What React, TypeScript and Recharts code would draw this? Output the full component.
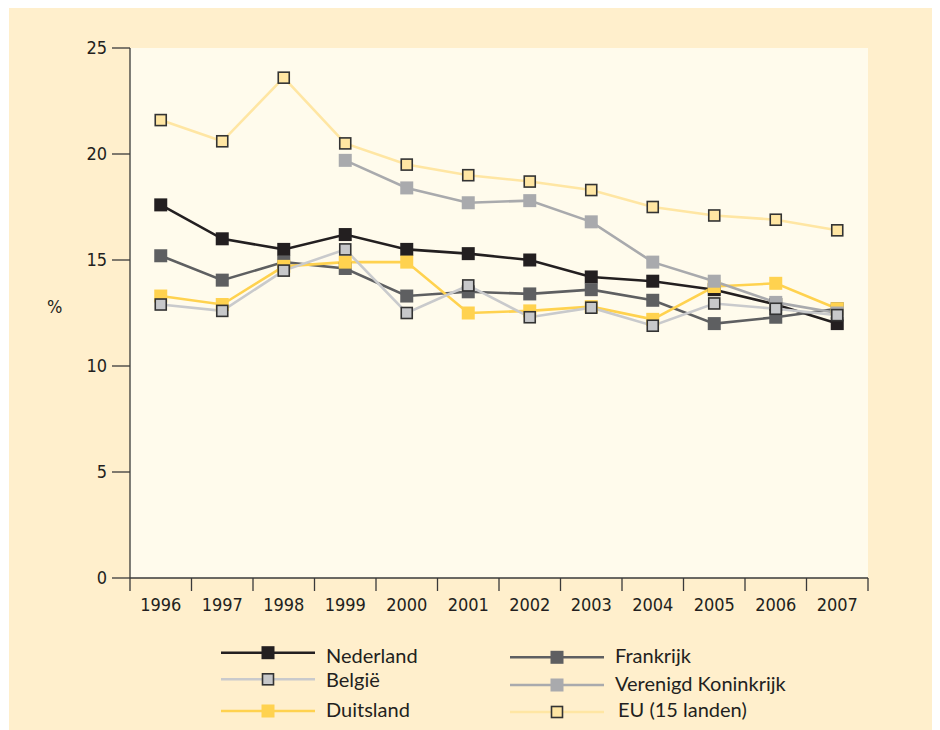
import React from "react";
import { LineChart, Line, XAxis, YAxis, CartesianGrid } from "recharts";

const years = [1996, 1997, 1998, 1999, 2000, 2001, 2002, 2003, 2004, 2005, 2006, 2007];
const nederland = [17.6, 16.0, 15.5, 16.2, 15.5, 15.3, 15.0, 14.2, 14.0, 13.6, 12.9, 12.0];
const belgie = [12.9, 12.6, 14.5, 15.5, 12.5, 13.8, 12.3, 12.75, 11.9, 12.95, 12.7, 12.4];
const duitsland = [13.3, 12.9, 14.7, 14.9, 14.9, 12.5, 12.6, 12.8, 12.2, 13.75, 13.9, 12.7];
const frankrijk = [15.2, 14.05, 14.9, 14.6, 13.3, 13.5, 13.4, 13.6, 13.1, 12.0, 12.3, 12.7];
const verenigdKoninkrijk = [null, null, null, 19.7, 18.4, 17.7, 17.8, 16.8, 14.9, 14.0, 13.0, 12.5];
const eu15 = [21.6, 20.6, 23.6, 20.5, 19.5, 19.0, 18.7, 18.3, 17.5, 17.1, 16.9, 16.4];
const yTicks = [0, 5, 10, 15, 20, 25];

const data = years.map((y, i) => ({
  year: y,
  nl: nederland[i],
  be: belgie[i],
  de: duitsland[i],
  fr: frankrijk[i],
  uk: verenigdKoninkrijk[i],
  eu: eu15[i],
}));

const xTicks: number[] = [];
years.forEach((y) => {
  xTicks.push(y - 0.5);
  xTicks.push(y);
});
xTicks.push(years[years.length - 1] + 0.5);

const AXIS = "#3a3a3a";
const FONT = "'Liberation Sans Narrow', 'DejaVu Sans Condensed', sans-serif";

type S = {
  key: string;
  name: string;
  line: string;
  fill: string;
  stroke?: string;
};
const series: S[] = [
  { key: "nl", name: "Nederland", line: "#231f20", fill: "#231f20" },
  { key: "fr", name: "Frankrijk", line: "#5e5f61", fill: "#5e5f61" },
  { key: "de", name: "Duitsland", line: "#ffd24f", fill: "#ffd24f" },
  { key: "uk", name: "Verenigd Koninkrijk", line: "#a9aaad", fill: "#a9aaad" },
  { key: "be", name: "België", line: "#c9cacc", fill: "#c7c8ca", stroke: "#333333" },
  { key: "eu", name: "EU (15 landen)", line: "#ffe6a3", fill: "#ffe6a3", stroke: "#333333" },
];

const makeDot = (s: S) => (props: any) => {
  const { cx, cy, value } = props;
  if (value == null || cx == null || cy == null) return <g key={props.key} />;
  if (s.stroke) {
    return (
      <rect
        key={props.key}
        x={cx - 5.5}
        y={cy - 5.5}
        width={11}
        height={11}
        fill={s.fill}
        stroke={s.stroke}
        strokeWidth={1.6}
      />
    );
  }
  return <rect key={props.key} x={cx - 6.5} y={cy - 6.5} width={13} height={13} fill={s.fill} />;
};

const XTick = (props: any) => {
  const { x, y, payload } = props;
  const v = payload.value;
  if (Number.isInteger(v)) {
    return (
      <text x={x} y={y + 27} dy="0.35em" textAnchor="middle" fontFamily={FONT} fontSize={18} fill="#231f20">
        {v}
      </text>
    );
  }
  return <line x1={x} x2={x} y1={y} y2={y + 13} stroke={AXIS} strokeWidth={1.3} />;
};

const legendLeft = [
  { s: series[0], y: 652.7, ty: 662.7 },
  { s: series[4], y: 679.3, ty: 686.7 },
  { s: series[2], y: 711, ty: 716.7 },
];
const legendRight = [
  { s: series[1], y: 657.3, ty: 662.7 },
  { s: series[3], y: 685, ty: 690.7 },
  { s: series[5], y: 712, ty: 717.3 },
];

function LegendItem({ s, y, ty, x0, x1, xm, xt }: any) {
  return (
    <g>
      <line x1={x0} x2={x1} y1={y} y2={y} stroke={s.line} strokeWidth={2.5} />
      {s.stroke ? (
        <rect x={xm - 5.5} y={y - 5.5} width={11} height={11} fill={s.fill} stroke={s.stroke} strokeWidth={1.6} />
      ) : (
        <rect x={xm - 6.5} y={y - 6.5} width={13} height={13} fill={s.fill} />
      )}
      <text x={xt} y={ty} fontFamily="Lato, 'Open Sans', sans-serif" fontSize={20} fill="#231f20">
        {s.name}
      </text>
    </g>
  );
}

export default function App() {
  return (
    <div style={{ position: "relative", width: 932, height: 722 }}>
      <div style={{ position: "absolute", left: 1, top: 0, width: 931, height: 722, background: "#ffefcc" }} />
      <div style={{ position: "absolute", left: 0, top: 0 }}>
        <LineChart
          width={932}
          height={722}
          data={data}
          margin={{ top: 40, right: 72, left: 0, bottom: 122 }}
        >
          <CartesianGrid horizontal={false} vertical={false} fill="#fffbec" stroke="none" />
          <XAxis
            dataKey="year"
            type="number"
            domain={[1995.5, 2007.5]}
            ticks={xTicks}
            interval={0}
            tickLine={false}
            tickSize={0}
            tickMargin={0}
            height={30}
            axisLine={{ stroke: AXIS, strokeWidth: 1.3 }}
            tick={<XTick />}
          />
          <YAxis
            domain={[0, 25]}
            ticks={yTicks}
            width={122}
            tickSize={18}
            tickMargin={5}
            axisLine={{ stroke: AXIS, strokeWidth: 1.3 }}
            tickLine={{ stroke: AXIS, strokeWidth: 1.3 }}
            tick={{ fontFamily: FONT, fontSize: 18, fill: "#231f20" }}
            label={{
              value: "%",
              position: "insideLeft",
              dx: 34,
              dy: -6,
              style: { fontFamily: FONT, fontSize: 18, fill: "#231f20" },
            }}
          />
          {series.map((s) => (
            <Line
              key={s.key}
              type="linear"
              dataKey={s.key}
              name={s.name}
              stroke={s.line}
              strokeWidth={2.6}
              dot={makeDot(s)}
              activeDot={false}
              isAnimationActive={false}
            />
          ))}
        </LineChart>
      </div>
      <svg
        width={932}
        height={722}
        style={{ position: "absolute", left: 0, top: 0, pointerEvents: "none" }}
      >
        <g transform="translate(-8,-8)">
          {legendLeft.map((it) => (
            <LegendItem key={it.s.key} {...it} x0={221} x1={315} xm={268} xt={326} />
          ))}
          {legendRight.map((it, i) => (
            <LegendItem key={it.s.key} {...it} x0={510} x1={604} xm={557} xt={i === 2 ? 618 : 615} />
          ))}
        </g>
      </svg>
    </div>
  );
}
